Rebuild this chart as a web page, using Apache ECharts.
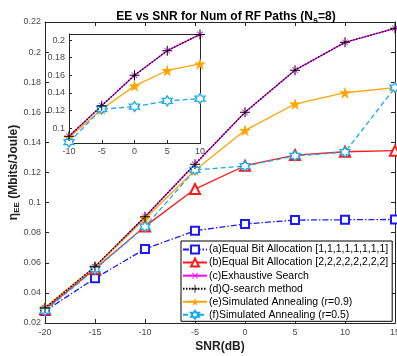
<!DOCTYPE html>
<html><head><meta charset="utf-8">
<script src="https://cdn.jsdelivr.net/npm/echarts@6/dist/echarts.min.js"></script>
<style>html,body{margin:0;padding:0;background:#fff}#c{width:397px;height:356px}</style>
</head><body><div id="c"></div>
<script>
const snr = [-20, -15, -10, -5, 0, 5, 10, 15];
const xTicks = [-20, -15, -10, -5, 0, 5, 10, 15];
const yTicks = [0.02, 0.04, 0.06, 0.08, 0.1, 0.12, 0.14, 0.16, 0.18, 0.2, 0.22];
const insetYTicks = [0.1, 0.12, 0.14, 0.16, 0.18, 0.2];
const insetXTicks = [-10, -5, 0, 5, 10];
const eqBit1 = [0.028, 0.0497, 0.0692, 0.0813, 0.0858, 0.0884, 0.0886, 0.0888];
const eqBit2 = [0.029, 0.056, 0.0842, 0.1090, 0.1245, 0.1316, 0.1338, 0.1345];
const exhaustive = [0.030, 0.0574, 0.0906, 0.1255, 0.160, 0.188, 0.2065, 0.2158];
const qsearch = [0.030, 0.0574, 0.0906, 0.1255, 0.160, 0.188, 0.2065, 0.2158];
const sa09 = [0.0303, 0.0572, 0.0893, 0.1215, 0.1480, 0.1655, 0.1730, 0.1764];
const sa05 = [0.0282, 0.0557, 0.0840, 0.1217, 0.1243, 0.1310, 0.1335, 0.1764];
const names = ['(a)Equal Bit Allocation [1,1,1,1,1,1,1,1]', '(b)Equal Bit Allocation [2,2,2,2,2,2,2,2]',
  '(c)Exhaustive Search', '(d)Q-search method', '(e)Simulated Annealing (r=0.9)', '(f)Simulated Annealing (r=0.5)'];

const STAR = 'path://M0,-100L22.45,-30.9L95.1,-30.9L36.33,11.8L58.78,80.9L0,38.2L-58.78,80.9L-36.33,11.8L-95.1,-30.9L-22.45,-30.9Z';
const HEX = 'path://M0,-100L28.87,-50L86.6,-50L57.74,0L86.6,50L28.87,50L0,100L-28.87,50L-86.6,50L-57.74,0L-86.6,-50L-28.87,-50Z';
const PLUS = 'path://M-1,-10L1,-10L1,-1L10,-1L10,1L1,1L1,10L-1,10L-1,1L-10,1L-10,-1L-1,-1Z';

const C_A = '#1a1aff', C_B = '#ff1a1a', C_C = '#ff00ff', C_D = '#000000', C_E = '#ffa500', C_F = '#1aa8f0';

function pts(arr, lo, hi) {
  const out = [];
  snr.forEach((x, i) => { if (x >= lo && x <= hi) out.push([x, arr[i]]); });
  return out;
}
function mk(name, arr, color, lineType, symbol, size, opts, axisIdx, lo, hi, z) {
  const s = {
    name: name, type: 'line', xAxisIndex: axisIdx, yAxisIndex: axisIdx,
    data: pts(arr, lo, hi), symbol: symbol, symbolSize: size,
    lineStyle: { color: color, width: 1.3, type: lineType },
    itemStyle: { color: color }, z: z, animation: false
  };
  return Object.assign(s, opts || {});
}
const hexOpt = { itemStyle: { color: '#fff', borderColor: C_F, borderWidth: 1.3 } };
const xOpt = { symbolRotate: 45 };

function seriesFor(axisIdx, lo, hi, z, all) {
  const list = [];
  if (all) {
    list.push(mk(names[0], eqBit1, C_A, [6, 2, 1.5, 2], 'emptyRect', 8, null, axisIdx, lo, hi, z));
    list.push(mk(names[1], eqBit2, C_B, 'solid', 'emptyTriangle', 10, null, axisIdx, lo, hi, z));
  }
  list.push(mk(names[2], exhaustive, C_C, 'solid', PLUS, 8, xOpt, axisIdx, lo, hi, z));
  list.push(mk(names[3], qsearch, C_D, [1.5, 1.5], PLUS, 10, null, axisIdx, lo, hi, z + 1));
  list.push(mk(names[4], sa09, C_E, 'solid', STAR, 12, null, axisIdx, lo, hi, z));
  list.push(mk(names[5], sa05, C_F, [5, 3], HEX, 10, hexOpt, axisIdx, lo, hi, z));
  return list;
}

const axisCol = '#262626', labCol = '#4a4a4a';
const FONT = 'Liberation Sans';
const chart = echarts.init(document.getElementById('c'), null, { renderer: 'canvas' });
chart.setOption({
  animation: false,
  textStyle: { fontFamily: FONT },
  title: {
    text: '{t|EE vs SNR for Num of RF Paths (N}{s|s}{t|=8)}',
    left: 221, top: 3, textAlign: 'center',
    textStyle: { rich: {
      t: { fontSize: 12, fontWeight: 'bold', color: '#000', fontFamily: FONT },
      s: { fontSize: 9, fontWeight: 'bold', color: '#000', fontFamily: FONT, padding: [8, 0, 0, 0] }
    } }
  },
  graphic: [{ type: 'rect', left: 69, top: 34, z: 8, silent: true,
    shape: { width: 131, height: 109 }, style: { fill: '#fff', stroke: axisCol, lineWidth: 1 } }],
  grid: [
    { left: 45, top: 22, width: 350, height: 301, show: false, containLabel: false, outerBoundsMode: 'none' },
    { left: 69, top: 34, width: 131, height: 109, show: false, containLabel: false, outerBoundsMode: 'none' }
  ],
  legend: {
    orient: 'vertical', left: 181, top: 241, z: 20,
    backgroundColor: '#fff', borderColor: '#000', borderWidth: 1, borderRadius: 0,
    padding: [3, 4, 1, 1], itemGap: 2, itemWidth: 24, itemHeight: 10,
    textStyle: { fontSize: 10.5, color: '#000', fontFamily: FONT, padding: [0, 0, 0, -3] },
    data: names
  },
  xAxis: [
    { gridIndex: 0, type: 'value', min: -20, max: 15, interval: 5,
      axisLine: { onZero: false, lineStyle: { color: axisCol } }, axisTick: { inside: true, length: 4, lineStyle: { color: axisCol } },
      axisLabel: { color: labCol, fontSize: 9, margin: 5 }, splitLine: { show: false },
      name: 'SNR(dB)', nameLocation: 'middle', nameGap: 18, nameMoveOverlap: false,
      nameTextStyle: { fontSize: 12, fontWeight: 'bold', color: '#222' } },
    { gridIndex: 1, type: 'value', min: -10, max: 10, interval: 5, z: 12,
      axisLine: { onZero: false, lineStyle: { color: axisCol } }, axisTick: { inside: true, length: 3, lineStyle: { color: axisCol } },
      axisLabel: { color: labCol, fontSize: 9, margin: 4 }, splitLine: { show: false } },
    { gridIndex: 0, type: 'value', min: -20, max: 15, interval: 5, position: 'top',
      axisLine: { onZero: false, lineStyle: { color: axisCol } }, axisTick: { inside: true, length: 4, lineStyle: { color: axisCol } },
      axisLabel: { show: false }, splitLine: { show: false } }
  ],
  yAxis: [
    { gridIndex: 0, type: 'value', min: 0.02, max: 0.22, interval: 0.02,
      axisLine: { show: true, onZero: false, lineStyle: { color: axisCol } }, axisTick: { show: true, inside: true, length: 4, lineStyle: { color: axisCol } },
      axisLabel: { color: labCol, fontSize: 9, margin: 4, formatter: v => String(+v.toFixed(2)) }, splitLine: { show: false },
      name: '{e|η}{s|EE}{t| (Mbits/Joule)}', nameLocation: 'middle', nameGap: 24, nameRotate: 90, nameMoveOverlap: false,
      nameTextStyle: { rich: {
        e: { fontSize: 12, fontWeight: 'bold', color: '#222', fontFamily: FONT },
        s: { fontSize: 8, fontWeight: 'bold', color: '#222', fontFamily: FONT, padding: [7, 0, 0, 0] },
        t: { fontSize: 12, fontWeight: 'bold', color: '#222', fontFamily: FONT }
      } } },
    { gridIndex: 1, type: 'value', min: 0.083, max: 0.207, z: 12,
      axisLine: { show: true, onZero: false, lineStyle: { color: axisCol } },
      axisTick: { show: true, inside: true, length: 3, lineStyle: { color: axisCol }, customValues: insetYTicks },
      axisLabel: { color: labCol, fontSize: 9, margin: 4, customValues: insetYTicks, formatter: v => String(+(+v).toFixed(2)) },
      splitLine: { show: false } },
    { gridIndex: 0, type: 'value', min: 0.02, max: 0.22, interval: 0.02, position: 'right',
      axisLine: { show: true, onZero: false, lineStyle: { color: axisCol } }, axisTick: { show: true, inside: true, length: 4, lineStyle: { color: axisCol } },
      axisLabel: { show: false }, splitLine: { show: false } }
  ],
  series: seriesFor(0, -20, 15, 2, true).concat(seriesFor(1, -10, 10, 13, false))
});
</script></body></html>
